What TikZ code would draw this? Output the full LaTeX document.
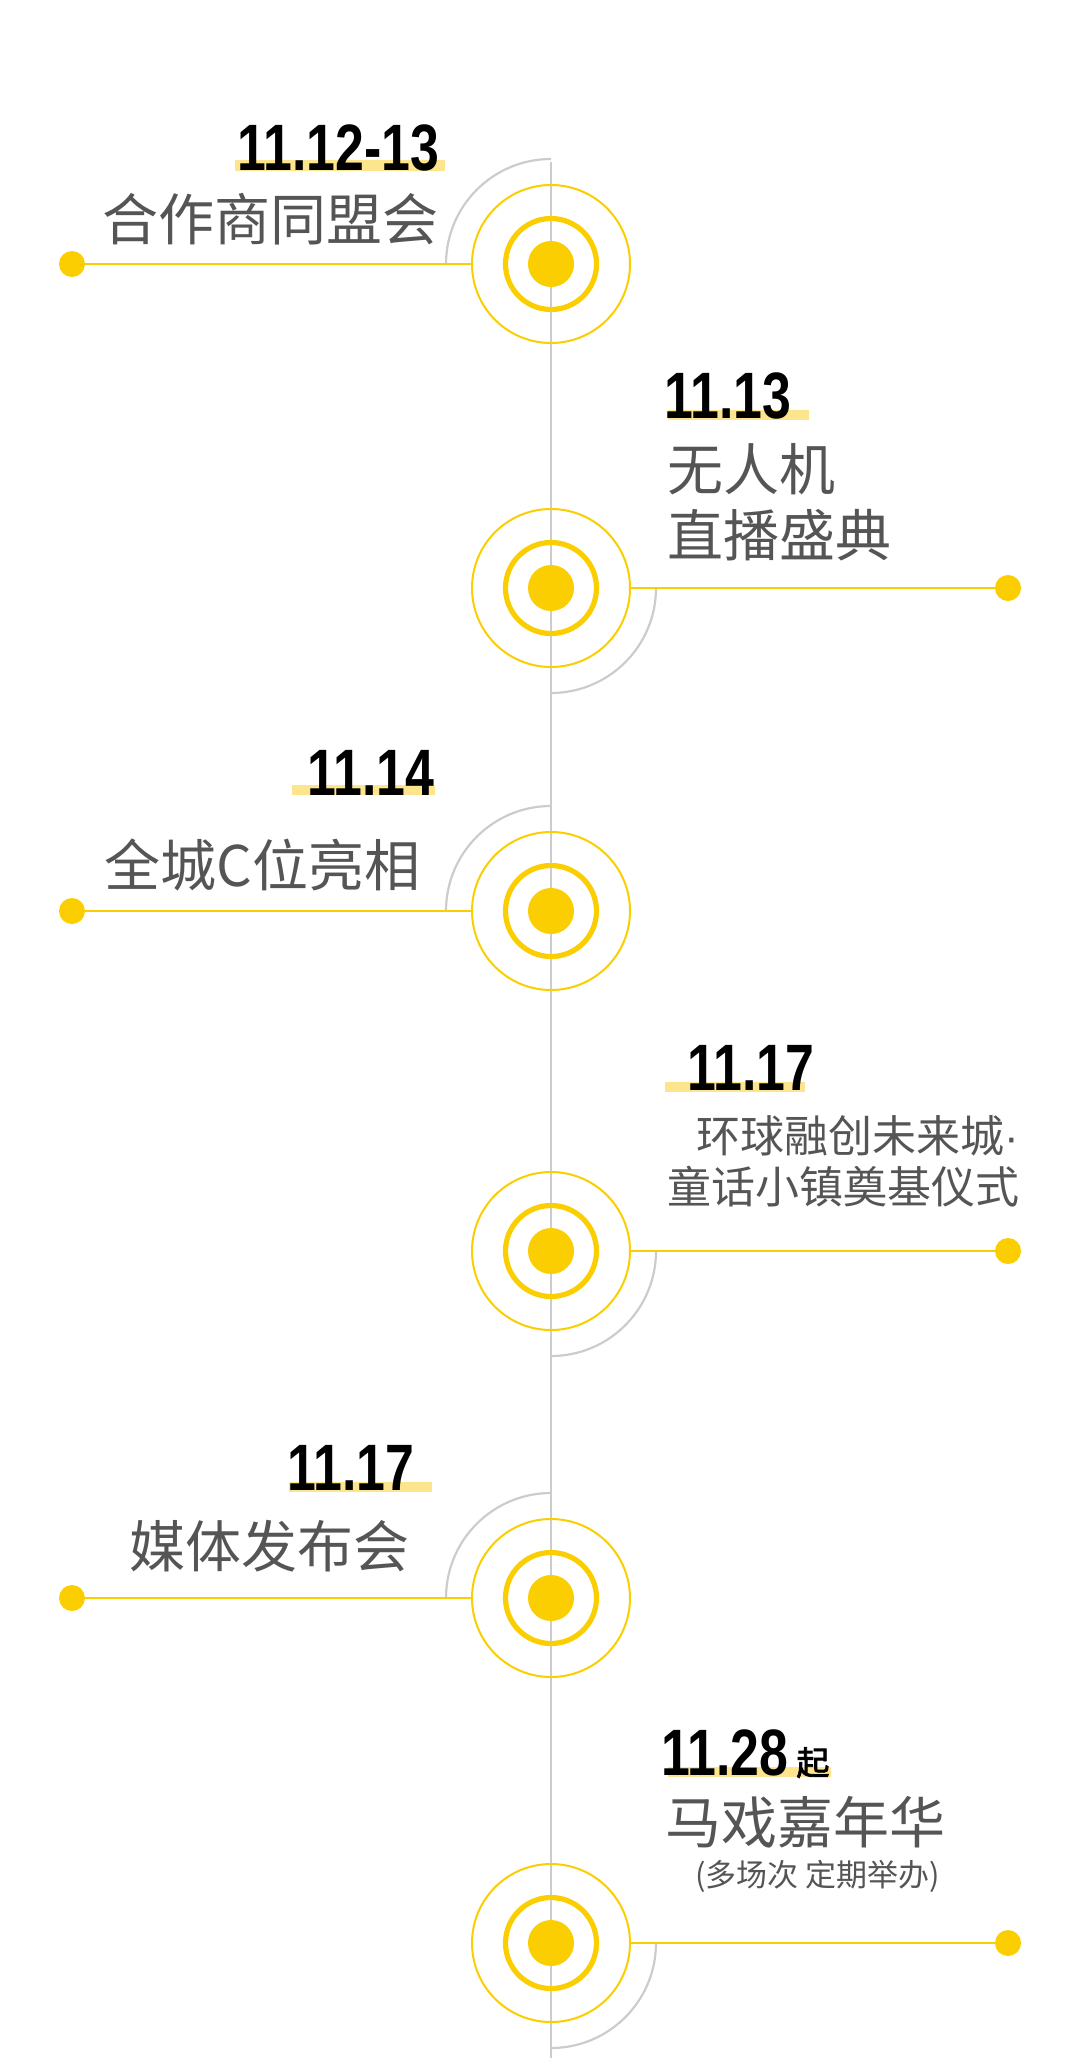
\documentclass[tikz,border=0pt]{standalone}
\usepackage{fontspec}
\setmainfont{Liberation Sans}
\newfontfamily\cjk{Noto Sans CJK SC}
\newfontfamily\cjkbold[FakeBold=2.5]{Noto Sans CJK SC}
\newfontfamily\datefont[FakeStretch=0.79]{Liberation Sans}
\definecolor{tl_yellow}{RGB}{250, 206, 0}
\definecolor{tl_bar}{RGB}{252, 229, 140}
\definecolor{tl_grey}{RGB}{204, 204, 204}
\definecolor{tl_text}{RGB}{85, 85, 85}
\tikzstyle{ob}=[circle,draw=tl_yellow,line width=1pt,
  minimum size=79pt,inner sep=0pt,outer sep=0pt]
\tikzstyle{rg}=[circle,draw=tl_yellow,line width=2.6pt,
  minimum size=45.5pt,inner sep=0pt]
\tikzstyle{yd}=[circle,fill=tl_yellow,minimum size=23pt,inner sep=0pt]
\tikzstyle{ed}=[circle,fill=tl_yellow,minimum size=13pt,inner sep=0pt,outer sep=0pt]
\tikzstyle{hl}=[draw=tl_yellow,line width=1.4pt]
\tikzstyle{gl}=[draw=tl_grey,line width=1.1pt]
\tikzstyle{hb}=[fill=tl_bar]
\tikzstyle{dt}=[inner sep=0pt,anchor=base west,
  font=\datefont\bfseries\fontsize{32.8pt}{34pt}\selectfont]
\tikzstyle{tt}=[inner sep=0pt,text=tl_text,
  font=\cjk\fontsize{28pt}{33pt}\selectfont]

\begin{document}
\begin{tikzpicture}[x=0.5pt,y=-0.5pt]
    \useasboundingbox (0,0) rectangle (1080,2071);
    % gray axis and arcs
    \coordinate (gtop) at (551,162);
    \coordinate (gbot) at (551,2058);
    \draw [gl] (gtop) -- (gbot);
    \draw [gl] (446,264) arc (180:270:105);
    \draw [gl] (656,588) arc (0:90:105);
    \draw [gl] (446,911) arc (180:270:105);
    \draw [gl] (656,1251) arc (0:90:105);
    \draw [gl] (446,1598) arc (180:270:105);
    \draw [gl] (656,1943) arc (0:90:105);
    % highlight bars
    \fill [hb] (235,160) rectangle (445,171);
    \fill [hb] (668,410) rectangle (809,420);
    \fill [hb] (292,785) rectangle (435,795);
    \fill [hb] (665,1082) rectangle (805,1092);
    \fill [hb] (289,1482) rectangle (432,1492);
    \fill [hb] (668,1767) rectangle (831,1777);
    % event 1
    \node [style=ob] (o1) at (551,264) {};
    \node [style=rg] (r1) at (551,264) {};
    \node [style=yd] (d1) at (551,264) {};
    \node [style=ed] (e1) at (72,264) {};
    \node [style=dt] (t1) at (237,170) {11.12-13};
    \node [style=tt,anchor=east] (n1) at (439,219) {合作商同盟会};
    % event 2
    \node [style=ob] (o2) at (551,588) {};
    \node [style=rg] (r2) at (551,588) {};
    \node [style=yd] (d2) at (551,588) {};
    \node [style=ed] (e2) at (1008,588) {};
    \node [style=dt] (t2) at (664,418) {11.13};
    \node [style=tt,anchor=west,align=left] (n2) at (667,502) {无人机\\直播盛典};
    % event 3
    \node [style=ob] (o3) at (551,911) {};
    \node [style=rg] (r3) at (551,911) {};
    \node [style=yd] (d3) at (551,911) {};
    \node [style=ed] (e3) at (72,911) {};
    \node [style=dt] (t3) at (307,795) {11.14};
    \node [style=tt,anchor=east] (n3) at (421,865) {全城C位亮相};
    % event 4
    \node [style=ob] (o4) at (551,1251) {};
    \node [style=rg] (r4) at (551,1251) {};
    \node [style=yd] (d4) at (551,1251) {};
    \node [style=ed] (e4) at (1008,1251) {};
    \node [style=dt] (t4) at (687,1090) {11.17};
    \node [style=tt,anchor=east,align=right,
      font=\cjk\fontsize{22pt}{25.5pt}\selectfont] (n4) at (1020,1161) {环球融创未来城{\rmfamily ·}\\童话小镇奠基仪式};
    % event 5
    \node [style=ob] (o5) at (551,1598) {};
    \node [style=rg] (r5) at (551,1598) {};
    \node [style=yd] (d5) at (551,1598) {};
    \node [style=ed] (e5) at (72,1598) {};
    \node [style=dt] (t5) at (287,1490) {11.17};
    \node [style=tt,anchor=east] (n5) at (410,1546) {媒体发布会};
    % event 6
    \node [style=ob] (o6) at (551,1943) {};
    \node [style=rg] (r6) at (551,1943) {};
    \node [style=yd] (d6) at (551,1943) {};
    \node [style=ed] (e6) at (1008,1943) {};
    \node [style=dt] (t6) at (661,1775) {11.28};
    \node [inner sep=0pt,anchor=base west,
      font=\cjkbold\fontsize{16.5pt}{18pt}\selectfont] (q6) at (796,1775) {起};
    \node [style=tt,anchor=west] (n6) at (665,1822) {马戏嘉年华};
    \node [style=tt,anchor=west,font=\cjk\fontsize{15.5pt}{18pt}\selectfont] (s6) at (695,1876) {(多场次 定期举办)};
    % connectors
    \draw [hl] (e1) -- (o1);
    \draw [hl] (o2) -- (e2);
    \draw [hl] (e3) -- (o3);
    \draw [hl] (o4) -- (e4);
    \draw [hl] (e5) -- (o5);
    \draw [hl] (o6) -- (e6);
\end{tikzpicture}
\end{document}
